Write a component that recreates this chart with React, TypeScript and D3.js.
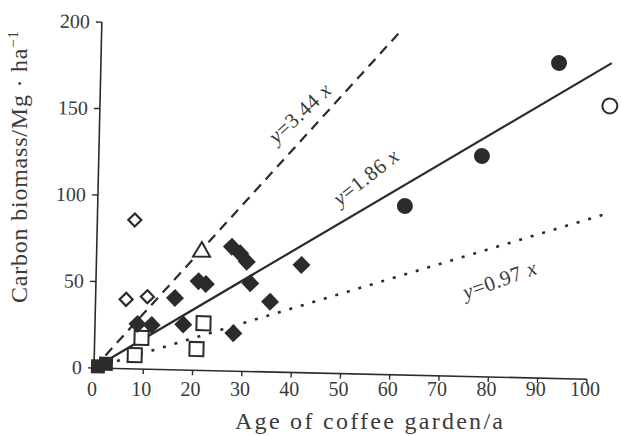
import React from 'react';
import * as d3 from 'd3';

const xTicks = [0, 10, 20, 30, 40, 50, 60, 70, 80, 90, 100];
const yTicks = [0, 50, 100, 150, 200];

const filledCircles: [number, number][] = [[62.3, 97.7], [77.7, 127.6], [92.9, 182.4]];
const openCircles: [number, number][] = [[103.4, 158.2]];
const filledDiamonds: [number, number][] = [
  [8.6, 26.0], [11.5, 25.6], [16.1, 41.5], [17.9, 26.3], [20.8, 51.5], [22.3, 50.0],
  [27.4, 71.9], [29.1, 68.2], [30.5, 63.4], [31.3, 51.0], [41.6, 62.3], [35.4, 40.6], [28.1, 21.9],
];
const openDiamonds: [number, number][] = [[7.6, 86.1], [6.2, 40.1], [10.5, 41.9]];
const openSquares: [number, number][] = [[8.2, 8.0], [9.5, 18.0], [22.0, 27.3], [20.7, 12.3]];
const openTriangles: [number, number][] = [[21.3, 68.6]];
const filledSquares: [number, number][] = [[0.8, 1.0], [2.4, 2.6]];

const fitSlopes = ['3.44', '1.86', '0.97'];
const fitEnds: [number, number][] = [[60.3, 197.6], [103.6, 183.0], [103.7, 96.3]];
const fitDash = ['10 7', 'none', '3 9'];
const fitLabelPos: [number, number, number][] = [[40.6, 150, -44.3], [54.3, 113.9, -39.6], [81.9, 56.2, -21]];

const W = 621, H = 436;
const OX = 94, OY = 368;
const x = d3.scaleLinear().domain([0, 100]).range([OX, OX + 493]);
const y = d3.scaleLinear().domain([0, 200]).range([OY, OY - 346]);
const ink = '#2b2b2b';
const textCol = '#3a3a3a';
const font = '"Liberation Serif", "DejaVu Serif", serif';

export default function App() {
  const line = d3.line<[number, number]>().x(d => x(d[0])).y(d => y(d[1]));
  const diamond = (h: number) => `M0,${-h}L${h},0L0,${h}L${-h},0Z`;
  const tri = (s: number) => { const h = s * Math.sqrt(3) / 2; return `M0,${-h * 2 / 3}L${s / 2},${h / 3}L${-s / 2},${h / 3}Z`; };
  return (
    <svg width={W} height={H} style={{ position: 'absolute', left: 0, top: 0, background: '#fff' }} fontFamily={font}>
      <rect width={W} height={H} fill="#fff" />
      <g transform={`rotate(1.3, ${OX}, ${OY})`}>
        <line x1={x(0)} x2={x(0)} y1={y(0)} y2={y(200)} stroke={ink} strokeWidth={1.6} />
        <line x1={x(0)} x2={x(100)} y1={y(0)} y2={y(0)} stroke={ink} strokeWidth={1.6} />
        {yTicks.map(t => (
          <g key={'y' + t}>
            <line x1={x(0) - 6} x2={x(0)} y1={y(t)} y2={y(t)} stroke={ink} strokeWidth={1.4} />
            <text x={x(0) - 12} y={y(t)} dy="0.33em" textAnchor="end" fontSize={20} fill={textCol}>{t}</text>
          </g>
        ))}
        {xTicks.map(t => (
          <line key={'x' + t} x1={x(t)} x2={x(t)} y1={y(0)} y2={y(0) + 5} stroke={ink} strokeWidth={1.4} />
        ))}
        {fitEnds.map((e, i) => (
          <path key={'f' + i} d={line([[0, 0], e]) || ''} fill="none" stroke={ink}
            strokeWidth={i === 2 ? 2.6 : 2.2} strokeDasharray={fitDash[i]} />
        ))}
        {fitLabelPos.map((p, i) => (
          <text key={'l' + i} transform={`translate(${x(p[0])},${y(p[1])}) rotate(${p[2]})`}
            textAnchor="middle" dy="0.33em" fontSize={21} letterSpacing={0.6} fill={textCol}>
            <tspan fontStyle="italic">y</tspan>={fitSlopes[i]} <tspan fontStyle="italic">x</tspan>
          </text>
        ))}
        {filledSquares.map((d, i) => (
          <rect key={'fs' + i} x={x(d[0]) - 7} y={y(d[1]) - 7} width={14} height={14} fill={ink} />
        ))}
        {openSquares.map((d, i) => (
          <rect key={'os' + i} x={x(d[0]) - 7} y={y(d[1]) - 7} width={14} height={14} fill="#fff" stroke={ink} strokeWidth={2} />
        ))}
        {openDiamonds.map((d, i) => (
          <path key={'od' + i} transform={`translate(${x(d[0])},${y(d[1])})`} d={diamond(6.5)} fill="#fff" stroke={ink} strokeWidth={2.2} />
        ))}
        {filledDiamonds.map((d, i) => (
          <path key={'fd' + i} transform={`translate(${x(d[0])},${y(d[1])})`} d={diamond(9)} fill={ink} />
        ))}
        {openTriangles.map((d, i) => (
          <path key={'ot' + i} transform={`translate(${x(d[0])},${y(d[1])})`} d={tri(17)} fill="#fff" stroke={ink} strokeWidth={2} />
        ))}
        {filledCircles.map((d, i) => (
          <circle key={'fc' + i} cx={x(d[0])} cy={y(d[1])} r={8} fill={ink} />
        ))}
        {openCircles.map((d, i) => (
          <circle key={'oc' + i} cx={x(d[0])} cy={y(d[1])} r={7.5} fill="#fff" stroke={ink} strokeWidth={2} />
        ))}
      </g>
      {xTicks.map(t => (
        <text key={'xl' + t} x={x(t) - 2} y={396} textAnchor="middle" fontSize={20} fill={textCol}>{t}</text>
      ))}
      <text x={369} y={429} textAnchor="middle" fontSize={24} fill={textCol} textLength={268} lengthAdjust="spacing">Age of coffee garden/a</text>
      <text transform={`translate(27,167) rotate(-90)`} textAnchor="middle" fontSize={24} fill={textCol} textLength={272} lengthAdjust="spacing">
        Carbon biomass/Mg · ha<tspan fontSize={15} dy={-9}>−1</tspan>
      </text>
    </svg>
  );
}
